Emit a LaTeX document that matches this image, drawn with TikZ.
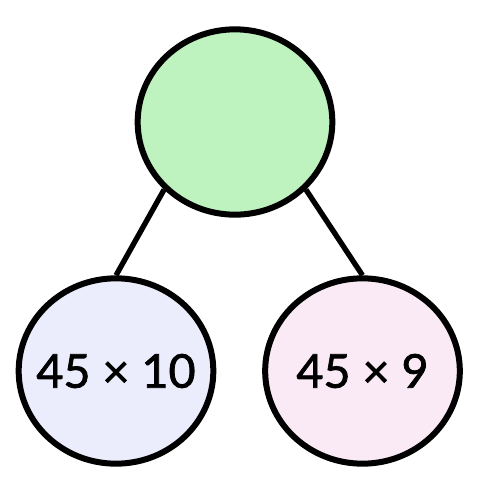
\documentclass[tikz,border=0pt]{standalone}
\usepackage{fontspec}
\setmainfont{Lato}
\newfontfamily\labelfont{Lato}[FakeBold=1.6]
\usetikzlibrary{shapes.geometric}
\definecolor{topgreen}{RGB}{190,242,190}
\definecolor{leftblue}{RGB}{235,237,253}
\definecolor{rightpink}{RGB}{250,234,245}
\tikzset{
  bubble/.style={ellipse, draw=black, line width=4.5pt, minimum width=146pt, minimum height=139pt, inner sep=0pt,
    font=\labelfont\fontsize{35}{40}\selectfont},
  link/.style={draw=black, line width=4pt}
}
\begin{document}
\begin{tikzpicture}[x=0.75pt,y=-0.75pt]
\useasboundingbox (0,0) rectangle (482,486);
\node[bubble, fill=topgreen] (top) at (235,122) {};
\node[bubble, fill=leftblue] (left) at (116,371) {\makebox[0pt]{45 × 10}};
\node[bubble, fill=rightpink] (right) at (362.5,371) {\makebox[0pt]{45 × 9}};
\draw[link] (top.south west) -- (left.north);
\draw[link] (top.south east) -- (right.north);
\end{tikzpicture}
\end{document}
